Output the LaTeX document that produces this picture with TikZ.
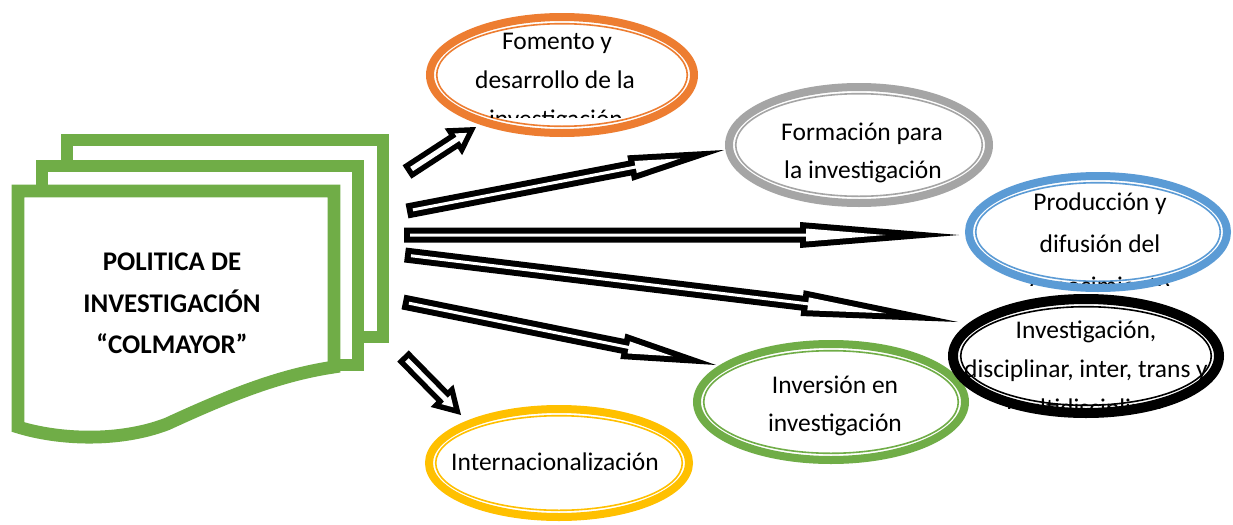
\documentclass[tikz,border=0pt]{standalone}
\usepackage{fontspec}
\setmainfont{Carlito}
\usetikzlibrary{calc}
\definecolor{docgreen}{HTML}{70AD47}
\definecolor{ovorange}{HTML}{ED7D31}
\definecolor{ovgray}{HTML}{A5A5A5}
\definecolor{ovblue}{HTML}{5B9BD5}
\definecolor{ovyellow}{HTML}{FFC000}
\definecolor{ovgreen}{HTML}{70AD47}
% block arrow: #1 start, #2 end, #3 shaft half width, #4 head half width, #5 head length, #6 border (px)
\newcommand\blockarrow[6]{%
  \pgfmathsetmacro\baW{#3*0.75}%
  \pgfmathsetmacro\baH{#4*0.75}%
  \pgfmathsetmacro\baL{#5*0.75}%
  \pgfmathsetmacro\bat{#6*0.75}%
  \pgfmathsetmacro\baw{(#3-#6)*0.75}%
  \pgfmathsetmacro\bahyp{10*sqrt((#5/10)*(#5/10)+(#4/10)*(#4/10))}%
  \pgfmathsetmacro\baHi{(#4*(#5-#6)/#5-#6*\bahyp/#5)*0.75}%
  \pgfmathsetmacro\baLi{(#5-#6)*0.75}%
  \pgfmathsetmacro\badt{#6*\bahyp/#4*0.75}%
  \coordinate (ba-B) at ($(#2)!\baL pt!(#1)$);
  \coordinate (ba-Bi) at ($(#2)!\baLi pt!(#1)$);
  \coordinate (ba-Si) at ($(#1)!\bat pt!(#2)$);
  \fill[black] ($(#1)!\baW pt!90:(#2)$) -- ($(ba-B)!\baW pt!90:(#2)$) -- ($(ba-B)!\baH pt!90:(#2)$) -- (#2)
     -- ($(ba-B)!\baH pt!-90:(#2)$) -- ($(ba-B)!\baW pt!-90:(#2)$) -- ($(#1)!\baW pt!-90:(#2)$) -- cycle;
  \fill[white] ($(ba-Si)!\baw pt!90:(#2)$) -- ($(ba-Bi)!\baw pt!90:(#2)$) -- ($(ba-Bi)!\baHi pt!90:(#2)$)
     -- ($(#2)!\badt pt!(#1)$) -- ($(ba-Bi)!\baHi pt!-90:(#2)$) -- ($(ba-Bi)!\baw pt!-90:(#2)$)
     -- ($(ba-Si)!\baw pt!-90:(#2)$) -- cycle;
}
% oval: #1 centre coordinate, #2 rx, #3 ry, #4 colour, #5 outer ring width (px)
\newcommand\ovalfill[5]{%
  \fill[white] (#1) ellipse [x radius={#2*0.75pt}, y radius={#3*0.75pt}];
  \draw[#4, line width=1.2pt] (#1) ellipse [x radius={(#2-#5-2.7)*0.75pt}, y radius={(#3-#5-2.7)*0.75pt}];}
\newcommand\ovalring[5]{%
  \draw[#4, line width={#5*0.75pt}] (#1) ellipse [x radius={(#2-#5/2)*0.75pt}, y radius={(#3-#5/2)*0.75pt}];}
% front document page: #1 left, #2 top, #3 bottom y at right edge
\newcommand\docpage[3]{%
  \draw[page] (#1,#2) -- (#1+316,#2) -- (#1+316,#3)
    .. controls (#1+262,#3+8) and (#1+212,#3+28) .. (#1+149,#3+57)
    .. controls (#1+102,#3+75) and (#1+42,#3+73) .. (#1,#3+60) -- cycle;}
% rear page (bottom hidden): #1 left, #2 top, #3 bottom
\newcommand\rearpage[3]{%
  \draw[page] (#1,#2) rectangle (#1+316,#3);}
\begin{document}
\begin{tikzpicture}[x=0.75pt,y=-0.75pt,
  txt/.style={anchor=base, inner sep=0pt, font=\fontsize{19.1}{23}\selectfont},
  ttl/.style={anchor=base, inner sep=0pt, font=\fontsize{20.2}{24}\selectfont\bfseries},
  page/.style={draw=docgreen, fill=white, line width=9.6pt, line join=miter}]
\useasboundingbox (0,0) rectangle (1233,525);
\fill[white] (0,0) rectangle (1233,525);

% stacked document
\rearpage{67}{140}{337}
\rearpage{42}{166}{365}
\docpage{18}{191}{367}
\node[ttl] (t1) at (172,270) {POLITICA DE};
\node[ttl] (t2) at (172,312) {INVESTIGACIÓN};
\node[ttl] (t3) at (172,353) {“COLMAYOR”};

% arrow end points
\coordinate (a1s) at (407,172); \coordinate (a1e) at (476,127);
\coordinate (a2s) at (407,211); \coordinate (a2e) at (724,150);
\coordinate (a3s) at (404,235); \coordinate (a3e) at (959,235);
\coordinate (a4s) at (405,255); \coordinate (a4e) at (958,322);
\coordinate (a5s) at (403,302); \coordinate (a5e) at (716,365);
\coordinate (a6s) at (403,356); \coordinate (a6e) at (461,415);
\blockarrow{a1s}{a1e}{8}{16}{27}{5.5}
\blockarrow{a2s}{a2e}{7.5}{13}{96}{6}
\blockarrow{a3s}{a3e}{7.5}{13}{159}{6}
\blockarrow{a4s}{a4e}{7.5}{13}{157}{6}
\blockarrow{a5s}{a5e}{7.5}{13}{95}{6}
\blockarrow{a6s}{a6e}{8}{16}{27}{5.5}

% ellipse centres
\coordinate (fom) at (562,75);
\coordinate (for) at (859,145);
\coordinate (pro) at (1098,232);
\coordinate (inv) at (831,402);
\coordinate (idi) at (1086,356);
\coordinate (int) at (559,463);

% Fomento
\ovalfill{fom}{136}{62}{ovorange}{8}
\begin{scope}
  \clip (426,13) rectangle (698,117);
  \node[txt] (fom1) at (557,49) {Fomento y};
  \node[txt] (fom2) at (555,88) {desarrollo de la};
  \node[txt] (fom3) at (556,127) {investigación};
\end{scope}
\ovalring{fom}{136}{62}{ovorange}{8}

% Formacion
\ovalfill{for}{134}{62}{ovgray}{8}
\node[txt] (for1) at (862,140) {Formación para};
\node[txt] (for2) at (863,178) {la investigación};
\ovalring{for}{134}{62}{ovgray}{8}

% Produccion
\ovalfill{pro}{133}{60}{ovblue}{8}
\begin{scope}
  \clip (965,172) rectangle (1231,285);
  \node[txt] (pro1) at (1100,210) {Producción y};
  \node[txt] (pro2) at (1100,252) {difusión del};
  \node[txt] (pro3) at (1100,294) {conocimiento};
\end{scope}
\ovalring{pro}{133}{60}{ovblue}{8}

% Inversion
\ovalfill{inv}{138}{62}{ovgreen}{8}
\node[txt] (inv1) at (835,393) {Inversión en};
\node[txt] (inv2) at (835,431) {investigación};
\ovalring{inv}{138}{62}{ovgreen}{8}

% Investigacion disciplinar
\ovalfill{idi}{138}{62}{black}{10}
\begin{scope}
  \clip (948,294) rectangle (1224,408);
  \node[txt] (idi1) at (1086,338) {Investigación,};
  \node[txt] (idi2) at (1086,377) {disciplinar, inter, trans y};
  \node[txt] (idi3) at (1086,416) {multidisciplinar};
\end{scope}
\ovalring{idi}{138}{62}{black}{10}

% Internacionalizacion
\ovalfill{int}{134}{58}{ovyellow}{8}
\node[txt] (int1) at (555,470) {Internacionalización};
\ovalring{int}{134}{58}{ovyellow}{8}
\end{tikzpicture}
\end{document}
